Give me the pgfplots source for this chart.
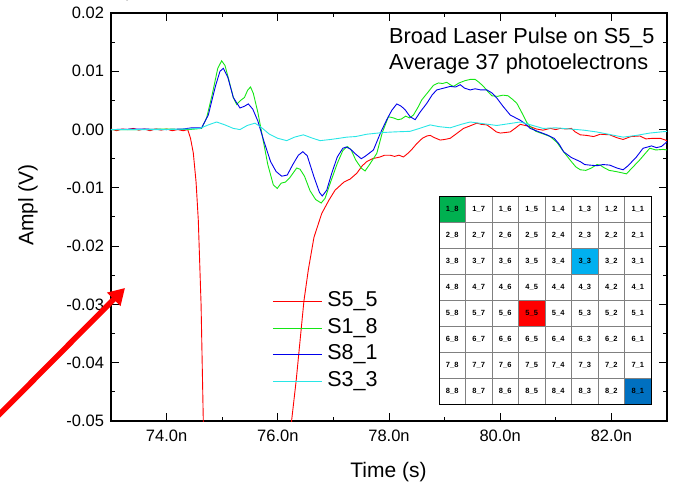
\documentclass[border=0pt]{standalone}
\usepackage{fontspec}
\setmainfont{Liberation Sans}
\usepackage{pgfplots}
\usepackage{pgfplotstable}
\pgfplotsset{compat=1.18}
\usetikzlibrary{arrows.meta}
\definecolor{cRed}{RGB}{255,0,0}
\definecolor{cGreen}{RGB}{20,230,20}
\definecolor{cBlue}{RGB}{0,0,235}
\definecolor{cCyan}{RGB}{40,230,230}
\definecolor{gGreen}{HTML}{00B050}
\definecolor{gSky}{HTML}{00B0F0}
\definecolor{gRed}{HTML}{FF0000}
\definecolor{gBlue}{HTML}{0070C0}
\definecolor{gGrid}{HTML}{808080}

\pgfplotstableread{
x y
73.00 0.0001
73.10 -0.0002
73.20 0.0001
73.30 0.0000
73.40 0.0002
73.50 -0.0001
73.60 0.0001
73.70 -0.0002
73.80 0.0001
73.90 -0.0001
74.00 0.0001
74.10 -0.0002
74.20 0.0000
74.30 -0.0002
74.38 0.0000
74.43 -0.0015
74.48 -0.0040
74.53 -0.0090
74.57 -0.0155
74.62 -0.0300
74.66 -0.0500
74.72 -0.0800
75.00 -0.1200
76.00 -0.1200
76.18 -0.0800
76.25 -0.0498
76.33 -0.0431
76.47 -0.0294
76.55 -0.0240
76.65 -0.0185
76.79 -0.0144
76.92 -0.0121
77.03 -0.0104
77.19 -0.0090
77.30 -0.0085
77.42 -0.0075
77.52 -0.0062
77.60 -0.0055
77.70 -0.0050
77.84 -0.0047
77.92 -0.0044
78.02 -0.0044
78.10 -0.0046
78.18 -0.0044
78.26 -0.0047
78.35 -0.0040
78.42 -0.0033
78.50 -0.0024
78.60 -0.0015
78.68 -0.0011
78.74 -0.0010
78.82 -0.0014
78.92 -0.0018
79.00 -0.0017
79.10 -0.0015
79.20 -0.0008
79.34 0.0002
79.45 0.0006
79.58 0.0011
79.66 0.0009
79.76 0.0008
79.85 0.0002
79.93 -0.0004
80.00 -0.0006
80.10 -0.0005
80.18 -0.0004
80.28 0.0003
80.36 0.0009
80.45 0.0007
80.54 0.0005
80.65 0.0001
80.77 -0.0001
80.90 0.0002
81.00 0.0000
81.08 0.0002
81.18 0.0001
81.28 0.0002
81.35 -0.0004
81.44 -0.0009
81.55 -0.0010
81.68 -0.0012
81.80 -0.0008
81.97 -0.0009
82.10 -0.0014
82.21 -0.0017
82.35 -0.0012
82.51 -0.0011
82.62 -0.0016
82.75 -0.0015
82.88 -0.0015
83.00 -0.0019
}\redtab

\pgfplotstableread{
x y
73.00 0.0000
73.50 0.0000
74.00 0.0001
74.40 0.0000
74.63 0.0002
74.72 0.0020
74.82 0.0060
74.92 0.0105
74.99 0.0118
75.05 0.0110
75.12 0.0085
75.20 0.0055
75.26 0.0043
75.33 0.0050
75.40 0.0055
75.46 0.0068
75.51 0.0073
75.56 0.0062
75.64 0.0030
75.72 -0.0010
75.82 -0.0060
75.92 -0.0095
75.99 -0.0101
76.06 -0.0092
76.14 -0.0090
76.22 -0.0082
76.34 -0.0066
76.40 -0.0068
76.48 -0.0080
76.58 -0.0105
76.68 -0.0120
76.78 -0.0126
76.85 -0.0118
76.95 -0.0090
77.07 -0.0058
77.17 -0.0036
77.25 -0.0029
77.32 -0.0035
77.40 -0.0052
77.50 -0.0066
77.57 -0.0071
77.65 -0.0060
77.78 -0.0041
77.88 -0.0005
77.99 0.0022
78.08 0.0020
78.16 0.0017
78.22 0.0018
78.30 0.0023
78.37 0.0020
78.44 0.0025
78.52 0.0038
78.59 0.0051
78.70 0.0064
78.80 0.0076
78.89 0.0080
78.96 0.0079
79.04 0.0081
79.10 0.0077
79.16 0.0074
79.26 0.0080
79.37 0.0084
79.46 0.0086
79.55 0.0086
79.62 0.0081
79.70 0.0074
79.78 0.0065
79.85 0.0058
79.95 0.0057
80.05 0.0059
80.14 0.0058
80.22 0.0052
80.30 0.0045
80.40 0.0027
80.48 0.0012
80.54 0.0005
80.64 -0.0003
80.76 -0.0007
80.90 -0.0012
81.02 -0.0022
81.14 -0.0038
81.28 -0.0055
81.36 -0.0064
81.44 -0.0069
81.54 -0.0070
81.64 -0.0066
81.74 -0.0060
81.80 -0.0061
81.86 -0.0065
81.96 -0.0070
82.08 -0.0072
82.18 -0.0074
82.27 -0.0076
82.36 -0.0067
82.45 -0.0058
82.51 -0.0052
82.60 -0.0042
82.69 -0.0032
82.80 -0.0035
82.93 -0.0034
83.00 -0.0035
}\greentab

\pgfplotstableread{
x y
73.00 0.0000
73.50 0.0001
74.00 0.0000
74.30 0.0001
74.45 0.0003
74.63 0.0003
74.75 0.0025
74.88 0.0075
74.96 0.0100
75.02 0.0105
75.10 0.0090
75.20 0.0055
75.32 0.0037
75.40 0.0040
75.47 0.0044
75.55 0.0035
75.64 0.0015
75.75 -0.0020
75.87 -0.0055
75.97 -0.0072
76.07 -0.0080
76.17 -0.0078
76.27 -0.0060
76.37 -0.0044
76.45 -0.0038
76.53 -0.0045
76.65 -0.0081
76.75 -0.0108
76.80 -0.0114
76.88 -0.0104
76.97 -0.0075
77.07 -0.0047
77.17 -0.0032
77.23 -0.0030
77.30 -0.0033
77.40 -0.0042
77.50 -0.0050
77.57 -0.0046
77.72 -0.0035
77.85 -0.0005
77.96 0.0017
78.05 0.0033
78.14 0.0044
78.22 0.0040
78.29 0.0034
78.38 0.0022
78.47 0.0017
78.56 0.0030
78.68 0.0045
78.78 0.0060
78.86 0.0068
78.98 0.0071
79.10 0.0074
79.20 0.0073
79.28 0.0077
79.36 0.0071
79.46 0.0068
79.55 0.0070
79.65 0.0068
79.76 0.0068
79.85 0.0063
79.94 0.0054
80.05 0.0040
80.18 0.0025
80.28 0.0020
80.36 0.0016
80.45 0.0010
80.54 0.0002
80.70 -0.0004
80.84 -0.0009
80.97 -0.0015
81.06 -0.0025
81.14 -0.0038
81.28 -0.0048
81.44 -0.0055
81.52 -0.0060
81.61 -0.0061
81.75 -0.0062
81.85 -0.0060
81.97 -0.0061
82.10 -0.0066
82.21 -0.0069
82.30 -0.0062
82.38 -0.0054
82.45 -0.0047
82.57 -0.0032
82.65 -0.0030
82.72 -0.0028
82.81 -0.0031
82.90 -0.0029
83.00 -0.0021
}\bluetab

\pgfplotstableread{
x y
73.00 0.0000
73.50 0.0000
74.00 0.0000
74.40 0.0001
74.60 0.0002
74.75 0.0008
74.90 0.0013
75.05 0.0008
75.20 0.0002
75.32 0.0000
75.45 0.0007
75.59 0.0011
75.70 0.0004
75.85 -0.0008
76.00 -0.0015
76.16 -0.0019
76.30 -0.0013
76.46 -0.0009
76.60 -0.0014
76.76 -0.0019
76.95 -0.0017
77.10 -0.0015
77.24 -0.0013
77.40 -0.0012
77.60 -0.0008
77.90 -0.0005
78.10 -0.0004
78.38 -0.0003
78.55 0.0002
78.74 0.0008
78.90 0.0005
79.10 0.0003
79.30 0.0009
79.46 0.0013
79.70 0.0010
79.94 0.0007
80.15 0.0010
80.36 0.0013
80.55 0.0008
80.77 0.0002
81.00 0.0003
81.25 0.0001
81.50 -0.0001
81.73 -0.0004
82.00 -0.0009
82.21 -0.0013
82.45 -0.0010
82.69 -0.0006
83.00 -0.0003
}\cyantab

\begin{document}
\begin{tikzpicture}
\begin{axis}[
  at={(0pt,0pt)}, anchor=south west,
  scale only axis, width=556pt, height=408pt,
  xmin=73, xmax=83, ymin=-0.05, ymax=0.02,
  axis line style={line width=1.3pt},
  xtick={74,76,78,80,82},
  xticklabels={74.0n,76.0n,78.0n,80.0n,82.0n},
  ytick={-0.05,-0.04,-0.03,-0.02,-0.01,0,0.01,0.02},
  yticklabels={-0.05,-0.04,-0.03,-0.02,-0.01,0.00,0.01,0.02},
  minor x tick num=1, minor y tick num=1,
  tick align=inside,
  major tick length=8pt, minor tick length=4pt,
  every tick/.style={line width=1pt, black},
  ticklabel style={font=\fontsize{16.5}{19}\selectfont},
  xticklabel style={yshift=-5pt},
  yticklabel style={xshift=-3.5pt},
  legend style={at={(0.290,0.326)}, anchor=north west, draw=none, fill=none,
    font=\fontsize{21.5}{24}\selectfont, inner sep=0pt,
    nodes={text height=14.5pt, text depth=4.5pt, inner ysep=3.8pt}},
  legend cell align=left,
  legend image code/.code={\draw[#1, line width=0.9pt] (0pt,0pt) -- (49pt,0pt); \path (52pt,0pt);},
]
\addplot[cRed, line width=0.9pt] table[x=x,y=y] {\redtab};
\addlegendentry{S5\_5}
\addplot[cGreen, line width=0.9pt] table[x=x,y=y] {\greentab};
\addlegendentry{S1\_8}
\addplot[cBlue, line width=0.9pt] table[x=x,y=y] {\bluetab};
\addlegendentry{S8\_1}
\addplot[cCyan, line width=0.9pt] table[x=x,y=y] {\cyantab};
\addlegendentry{S3\_3}
\end{axis}

% titles
\node[anchor=base west, font=\fontsize{21.7}{24}\selectfont, inner sep=0pt] at (278pt,377pt) {Broad Laser Pulse on S5\_5};
\node[anchor=base west, font=\fontsize{21.7}{24}\selectfont, inner sep=0pt] at (278pt,351pt) {Average 37 photoelectrons};
% axis labels
\node[rotate=90, font=\fontsize{21}{24}\selectfont, inner sep=0pt] at (-83pt,216pt) {Ampl (V)};
\node[anchor=base, font=\fontsize{21}{24}\selectfont, inner sep=0pt] at (277.5pt,-56pt) {Time (s)};

% inset pixel map
\begin{scope}[shift={(328pt,17pt)}]
  \fill[white] (0pt,0pt) rectangle (212pt,208pt);
  \fill[gGreen] (0pt,182pt) rectangle (26.5pt,208pt);
  \fill[gSky] (132.5pt,130pt) rectangle (159pt,156pt);
  \fill[gRed] (79.5pt,78pt) rectangle (106pt,104pt);
  \fill[gBlue] (185.5pt,0pt) rectangle (212pt,26pt);
  \foreach \i in {1,...,7} {
    \draw[gGrid, line width=1pt] (\i*26.5pt,0pt) -- (\i*26.5pt,208pt);
    \draw[gGrid, line width=1pt] (0pt,\i*26pt) -- (212pt,\i*26pt);
  }
  \draw[black, line width=1pt] (0pt,0pt) rectangle (212pt,208pt);
  \foreach \r in {1,...,8} {
    \foreach \c in {1,...,8} {
      \node[font=\fontsize{7.5}{8}\selectfont\bfseries, inner sep=0pt]
        at ({(8-\c)*26.5pt+13.25pt},{(8-\r)*26pt+13pt}) {\r\_\c};
    }
  }
\end{scope}

% annotation arrow
\draw[cRed, line width=5.5pt, -{Triangle[length=16pt,width=18pt]}] (-135pt,-17pt) -- (14pt,133pt);

\pgfresetboundingbox
\useasboundingbox (-111pt,-62pt) rectangle (563pt,421pt);
\end{tikzpicture}
\end{document}
